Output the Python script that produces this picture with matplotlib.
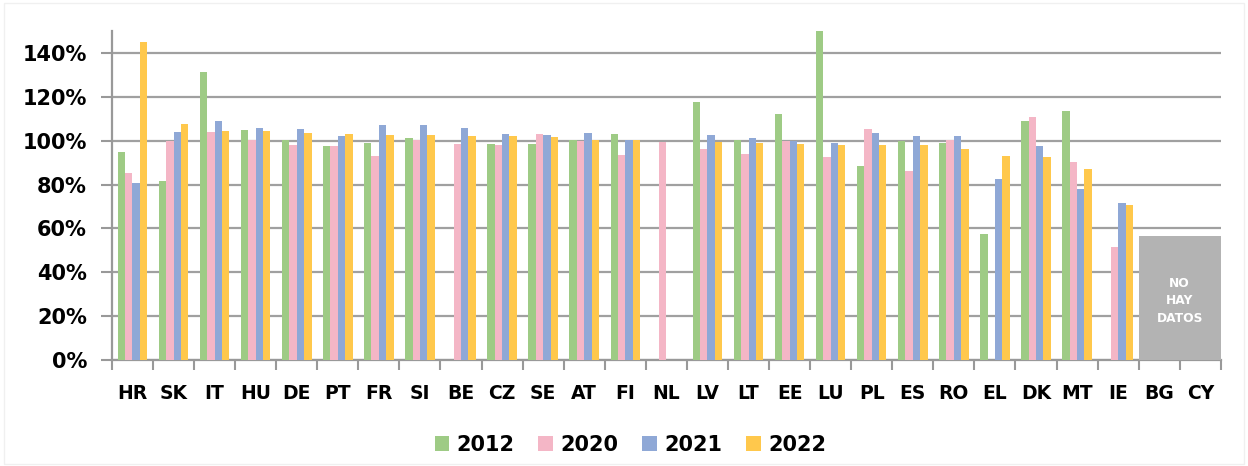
import matplotlib.pyplot as plt
import numpy as np
from matplotlib.patches import Rectangle

# Paises y valores (%) por año
paises = ['HR', 'SK', 'IT', 'HU', 'DE', 'PT', 'FR', 'SI', 'BE', 'CZ', 'SE', 'AT', 'FI', 'NL',
          'LV', 'LT', 'EE', 'LU', 'PL', 'ES', 'RO', 'EL', 'DK', 'MT', 'IE', 'BG', 'CY']
v2012 = [95.0, 81.6, 131.2, 105.0, 100.3, 97.7, 99.1, 101.4, np.nan, 98.7, 98.7, 100.3, 103.1, np.nan,
         117.8, 100.5, 112.3, 150.0, 88.5, 99.7, 98.9, 57.6, 108.8, 113.7, np.nan, np.nan, np.nan]
v2020 = [85.1, 99.9, 103.8, 100.3, 98.0, 97.7, 92.9, 100.3, 98.7, 97.9, 102.9, 99.7, 93.6, 99.6,
         96.1, 93.8, 99.7, 92.7, 105.3, 86.2, 100.1, np.nan, 110.8, 90.4, 51.4, np.nan, np.nan]
v2021 = [80.6, 104.1, 109.1, 105.6, 105.2, 102.1, 107.2, 107.2, 105.6, 103.2, 102.4, 103.3, 100.1, np.nan,
         102.6, 101.4, 99.9, 98.9, 103.3, 102.3, 102.3, 82.4, 97.4, 78.0, 71.6, np.nan, np.nan]
v2022 = [144.9, 107.8, 104.4, 104.3, 103.5, 102.9, 102.4, 102.4, 102.3, 102.1, 101.5, 100.5, 100.5, np.nan,
         99.3, 99.1, 98.7, 98.2, 98.2, 97.9, 96.4, 92.9, 92.7, 87.1, 70.8, np.nan, np.nan]
series = {'2012': v2012, '2020': v2020, '2021': v2021, '2022': v2022}
colores = ['#9ecb85', '#f4b6c6', '#8fa8d6', '#ffc84c']
sin_datos = ['BG', 'CY']
altura_sin_datos = 56.5

fig = plt.figure(figsize=(12.48, 4.66), dpi=100)
# borde suave alrededor de la imagen
fig.add_artist(Rectangle((0.003, 0.004), 0.994, 0.99, transform=fig.transFigure,
                         facecolor='none', edgecolor='#f0f0f0', linewidth=1))
ax = fig.add_axes([0.0897, 0.2275, 0.8885, 0.706])

x = np.arange(len(paises))
w = 0.18
for i, (nombre, vals) in enumerate(series.items()):
    ax.bar(x + (i - 1.5) * w, np.array(vals) / 100, width=w, color=colores[i], label=nombre, zorder=3)

# Recuadro "NO HAY DATOS"
i0 = paises.index(sin_datos[0])
ax.add_patch(Rectangle((i0 - 0.5, 0), len(sin_datos), altura_sin_datos / 100,
                       facecolor='#b3b3b3', edgecolor='none', zorder=4))
ax.text(i0 + len(sin_datos) / 2 - 0.5, 0.27, 'NO\nHAY\nDATOS', ha='center', va='center',
        color='white', fontsize=8.8, fontweight='bold', linespacing=1.45, zorder=5)

ax.set_xlim(-0.5, len(paises) - 0.5)
ax.set_ylim(0, 1.5)
ax.set_yticks(np.arange(0, 1.41, 0.2))
ax.set_yticklabels([f'{int(round(t * 100))}%' for t in np.arange(0, 1.41, 0.2)])
ax.set_xticks(x)
ax.set_xticklabels(paises)
ax.set_xticks(np.arange(-0.5, len(paises), 1), minor=True)
ax.tick_params(axis='x', which='major', length=0, pad=17)
ax.tick_params(axis='x', which='minor', length=7, width=1.5, color='#999999')
ax.tick_params(axis='y', length=8, width=1.5, color='#999999', pad=10)
for lab in ax.get_xticklabels():
    lab.set_fontsize(13.5)
    lab.set_fontweight('bold')
for lab in ax.get_yticklabels():
    lab.set_fontsize(15)
    lab.set_fontweight('bold')

ax.grid(axis='y', color='#a0a0a0', linewidth=1.6, zorder=0)
ax.set_axisbelow(True)
for s in ['top', 'right']:
    ax.spines[s].set_visible(False)
for s in ['left', 'bottom']:
    ax.spines[s].set_color('#999999')
    ax.spines[s].set_linewidth(1.6)

fig.legend(loc='center', bbox_to_anchor=(0.505, 0.045), ncol=4, frameon=False,
           prop={'size': 15, 'weight': 'bold'}, handlelength=0.7, handleheight=0.7,
           handletextpad=0.35, columnspacing=1.15)

plt.savefig('out.png', dpi=100)
